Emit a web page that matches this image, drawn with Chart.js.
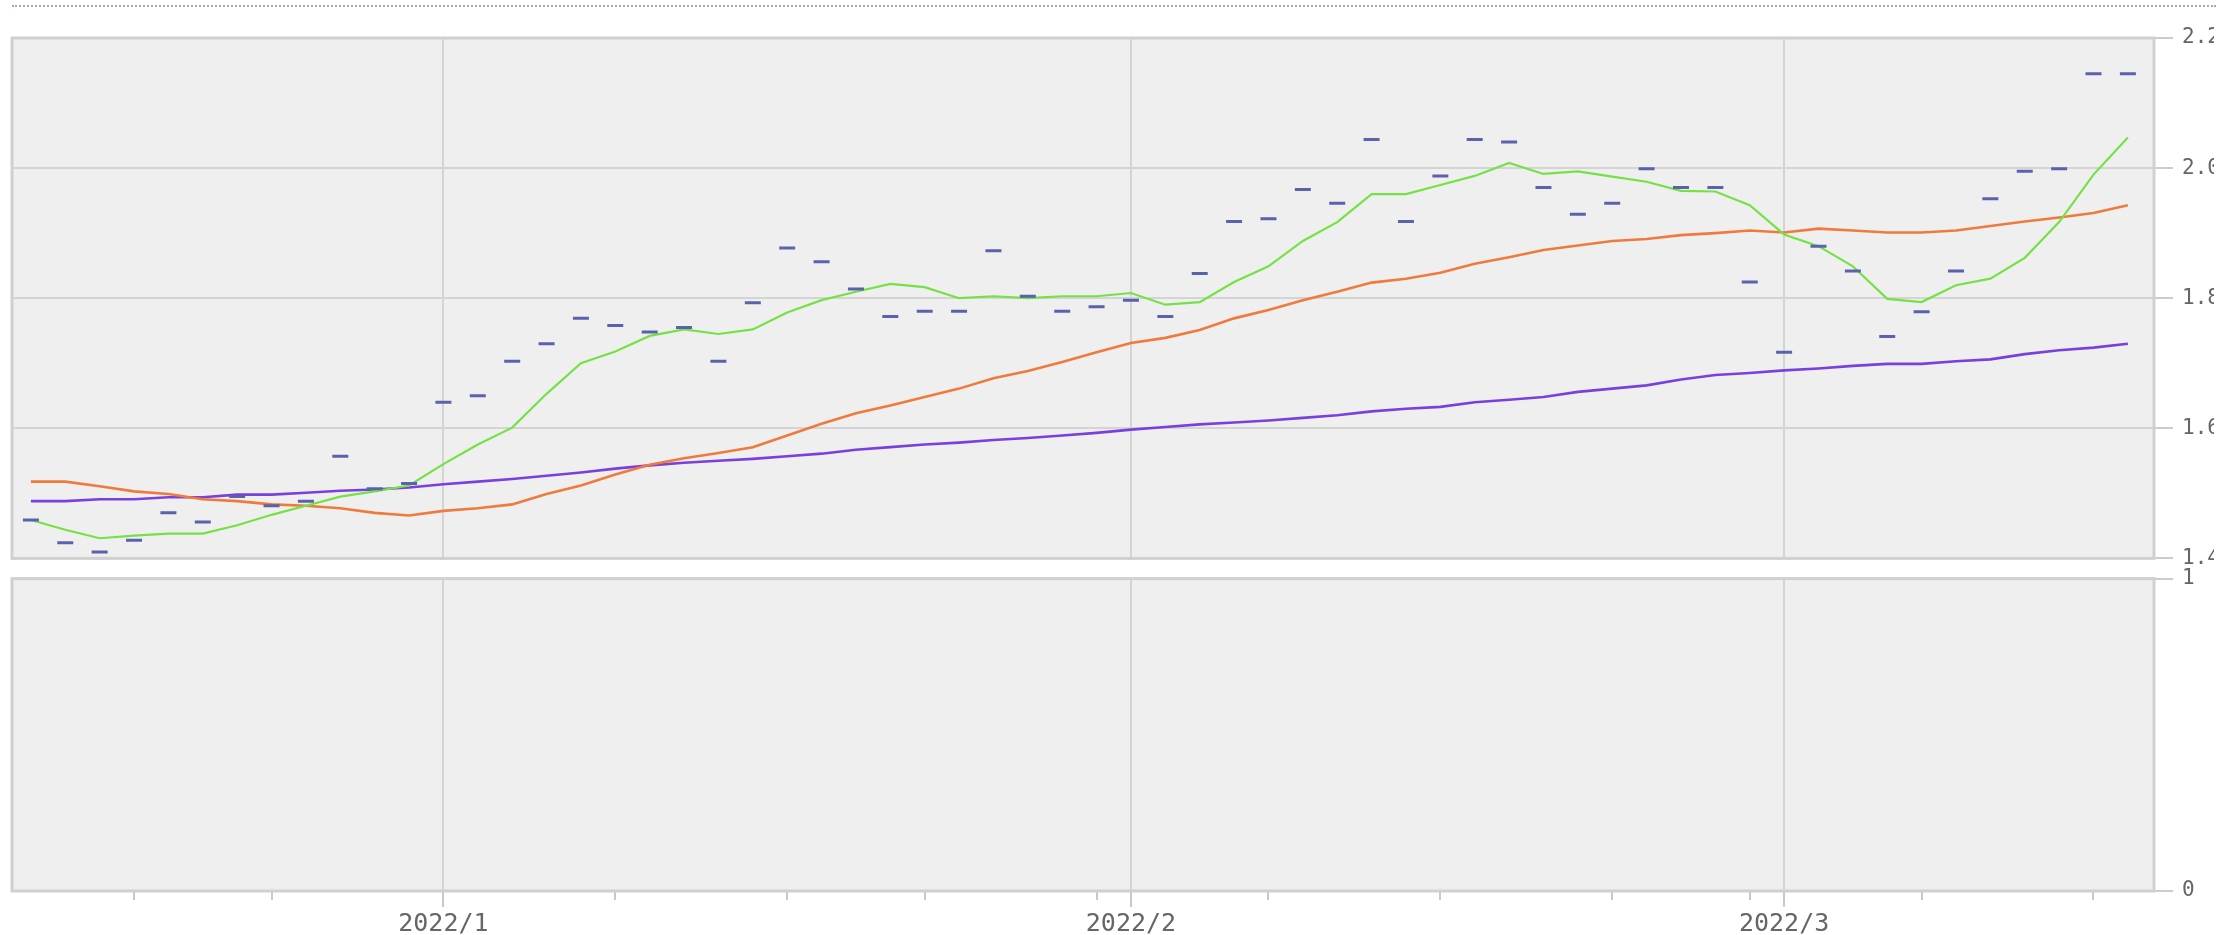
<!DOCTYPE html>
<html>
<head>
<meta charset="utf-8">
<title>Price chart</title>
<script src="https://cdn.jsdelivr.net/npm/chart.js@4.4.0/dist/chart.umd.min.js"></script>
<style>
  html, body { margin: 0; padding: 0; background: #fff; }
  body { width: 2236px; height: 935px; overflow: hidden; position: relative; }
  #dots { position: absolute; left: 12px; top: 5px; width: 2204px; border-top: 2px dotted #9ea6dc; }
  #clip { position: absolute; left: 0; top: 0; width: 2214px; height: 935px; overflow: hidden; }
  #c-price { position: absolute; left: 0; top: 0; }
  #c-vol   { position: absolute; left: 0; top: 557px; }
</style>
</head>
<body>
<div id="dots"></div>
<div id="clip">
  <canvas id="c-price" width="2236" height="580"></canvas>
  <canvas id="c-vol" width="2236" height="378"></canvas>
</div>
<script>
/* ══════════════════════════════════════
   Daily price + moving averages
══════════════════════════════════════ */

// ── DATA (one value per trading day, 2021/12/15 → 2022/3/15) ──
const CLOSE = [1.459,1.424,1.410,1.428,1.470,1.456,1.495,1.481,1.488,1.557,
               1.507,1.515,1.640,1.650,1.703,1.730,1.769,1.758,1.748,1.755,
               1.703,1.793,1.877,1.856,1.814,1.772,1.780,1.780,1.873,1.803,
               1.780,1.787,1.797,1.772,1.838,1.918,1.922,1.967,1.946,2.044,
               1.918,1.988,2.044,2.040,1.970,1.929,1.946,1.999,1.970,1.970,
               1.825,1.717,1.880,1.842,1.741,1.779,1.842,1.953,1.995,1.999,
               2.145,2.145];

const MA_SHORT = [1.459,1.444,1.431,1.435,1.438,1.438,1.451,1.467,1.481,1.495,
                  1.503,1.512,1.545,1.575,1.601,1.653,1.700,1.718,1.742,1.752,
                  1.745,1.752,1.778,1.797,1.810,1.822,1.817,1.800,1.803,1.800,
                  1.803,1.803,1.808,1.790,1.794,1.825,1.849,1.888,1.917,1.960,
                  1.960,1.974,1.988,2.008,1.991,1.995,1.987,1.979,1.965,1.964,
                  1.943,1.898,1.880,1.849,1.799,1.794,1.820,1.830,1.862,1.917,
                  1.990,2.047];

const MA_MID = [1.518,1.518,1.511,1.503,1.499,1.491,1.488,1.483,1.481,1.477,
                1.470,1.466,1.473,1.477,1.483,1.499,1.512,1.529,1.544,1.554,
                1.562,1.571,1.589,1.607,1.623,1.635,1.648,1.661,1.677,1.688,
                1.702,1.717,1.731,1.739,1.751,1.769,1.782,1.797,1.810,1.824,
                1.830,1.839,1.853,1.863,1.874,1.881,1.888,1.891,1.897,1.900,
                1.904,1.901,1.907,1.904,1.901,1.901,1.904,1.911,1.918,1.924,
                1.931,1.943];

const MA_LONG = [1.488,1.488,1.491,1.491,1.494,1.494,1.498,1.498,1.501,1.504,
                 1.506,1.509,1.514,1.518,1.522,1.527,1.532,1.538,1.543,1.547,
                 1.550,1.553,1.557,1.561,1.567,1.571,1.575,1.578,1.582,1.585,
                 1.589,1.593,1.598,1.602,1.606,1.609,1.612,1.616,1.620,1.626,
                 1.630,1.633,1.640,1.644,1.648,1.656,1.661,1.666,1.675,1.682,
                 1.685,1.689,1.692,1.696,1.699,1.699,1.703,1.706,1.714,1.720,
                 1.724,1.730];

// ── TICKS ─────────────────────────────
const MONTH_TICKS  = [12, 32, 51];
const MONTH_LABELS = ['2022/1', '2022/2', '2022/3'];
const WEEK_TICKS   = [3, 7, 17, 22, 26, 31, 36, 41, 46, 50, 55, 60];
const PRICE_TICKS  = [1.4, 1.6, 1.8, 2.0, 2.2];
const VOL_TICKS    = [0, 1];

const X_MIN = -0.55, X_MAX = 61.76;
const GRID  = '#d4d4d4';
const LABEL_FONT = { family: "'DejaVu Sans Mono', monospace", size: 21 };

const xy = arr => arr.map((v, i) => ({ x: i, y: v }));

// ── PANEL BACKGROUND + FRAME ──────────
const panelFrame = {
  id: 'panelFrame',
  beforeDraw(chart) {
    const { ctx, chartArea: a } = chart;
    ctx.save();
    ctx.fillStyle = '#efefef';
    ctx.fillRect(a.left, a.top, a.right - a.left, a.bottom - a.top);
    ctx.restore();
  },
  beforeDatasetsDraw(chart) {
    const { ctx, chartArea: a } = chart;
    ctx.save();
    ctx.strokeStyle = '#d0d0d0';
    ctx.lineWidth = 3;
    ctx.strokeRect(a.left, a.top, a.right - a.left, a.bottom - a.top);
    ctx.restore();
  },
};

function rightAxis(min, max, ticks, fmt) {
  return {
    position: 'right', min, max,
    afterBuildTicks: s => { s.ticks = ticks.map(v => ({ value: v })); },
    afterFit: s => { s.width = 82; },
    border: { display: false },
    grid: { color: GRID, lineWidth: 2, tickLength: 19, tickColor: '#cccccc', tickWidth: 2 },
    ticks: { callback: fmt, color: '#666', font: LABEL_FONT, padding: 9, autoSkip: false },
  };
}

// ── PRICE PANEL ───────────────────────
new Chart(document.getElementById('c-price'), {
  type: 'line',
  data: {
    datasets: [
      {
        label: 'Close',
        data: xy(CLOSE),
        showLine: false,
        pointStyle: 'line',
        pointRadius: 8,
        pointBorderWidth: 3,
        pointBorderColor: '#5a62ac',
        pointBackgroundColor: '#5a62ac',
      },
      { label: 'MA short', data: xy(MA_SHORT), borderColor: '#74e244', borderWidth: 2.2, pointRadius: 0 },
      { label: 'MA mid',   data: xy(MA_MID),   borderColor: '#f07a3c', borderWidth: 2.6, pointRadius: 0 },
      { label: 'MA long',  data: xy(MA_LONG),  borderColor: '#7a40dd', borderWidth: 2.6, pointRadius: 0 },
    ],
  },
  options: {
    responsive: false,
    animation: false,
    devicePixelRatio: 1,
    layout: { padding: { left: 12, top: 38, right: 0, bottom: 8 } },
    plugins: { legend: { display: false }, tooltip: { enabled: false } },
    scales: {
      x: {
        type: 'linear', min: X_MIN, max: X_MAX,
        afterBuildTicks: s => { s.ticks = MONTH_TICKS.map(v => ({ value: v })); },
        afterFit: s => { s.height = 0; },
        border: { display: false },
        grid: { color: GRID, lineWidth: 2, drawTicks: false },
        ticks: { display: false },
      },
      y: rightAxis(1.4, 2.2, PRICE_TICKS, v => v.toFixed(1)),
    },
  },
  plugins: [panelFrame],
});

// ── LOWER (EMPTY) PANEL ───────────────
const isMonth = c => c.tick && MONTH_TICKS.includes(c.tick.value);

new Chart(document.getElementById('c-vol'), {
  type: 'line',
  data: { datasets: [{ label: 'Volume', data: [] }] },
  options: {
    responsive: false,
    animation: false,
    devicePixelRatio: 1,
    layout: { padding: { left: 12, top: 12, right: 0, bottom: 0 } },
    plugins: { legend: { display: false }, tooltip: { enabled: false } },
    scales: {
      x: {
        type: 'linear', min: X_MIN, max: X_MAX,
        afterBuildTicks: s => {
          s.ticks = [...WEEK_TICKS, ...MONTH_TICKS].sort((a, b) => a - b).map(v => ({ value: v }));
        },
        afterFit: s => { s.height = 44; },
        border: { display: false },
        grid: {
          color: c => isMonth(c) ? GRID : 'rgba(0,0,0,0)',
          lineWidth: 2,
          tickLength: 16,
          tickWidth: 2,
          tickColor: '#c8c8c8',
          tickBorderDash: c => isMonth(c) ? [] : [9, 40],
        },
        ticks: {
          autoSkip: false, maxRotation: 0, padding: 2,
          color: '#666',
          font: { family: "'DejaVu Sans Mono', monospace", size: 25 },
          callback: v => { const k = MONTH_TICKS.indexOf(v); return k >= 0 ? MONTH_LABELS[k] : ''; },
        },
      },
      y: rightAxis(0, 1, VOL_TICKS, v => String(v)),
    },
  },
  plugins: [panelFrame],
});
</script>
</body>
</html>
